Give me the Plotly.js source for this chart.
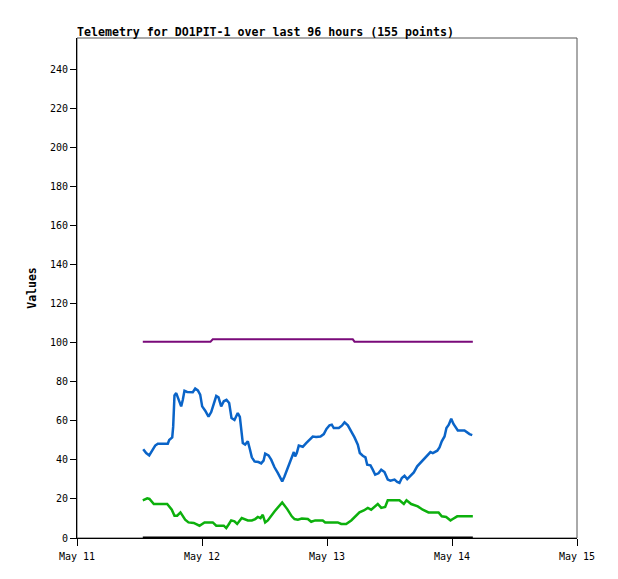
<!DOCTYPE html>
<html>
<head>
<meta charset="utf-8">
<script src="https://cdn.plot.ly/plotly-3.0.1.min.js"></script>
<style>
  body { margin: 0; background: #fff; }
  #chart { width: 618px; height: 579px; }
</style>
</head>
<body>
<div id="chart"></div>
<script>
// values
let blue_time = [
    "2024-05-11 12:43", "2024-05-11 13:17", "2024-05-11 13:52", "2024-05-11 14:22", "2024-05-11 15:01",
    "2024-05-11 15:31", "2024-05-11 16:48", "2024-05-11 17:26", "2024-05-11 17:42", "2024-05-11 18:17",
    "2024-05-11 18:28", "2024-05-11 18:35", "2024-05-11 18:43", "2024-05-11 19:03", "2024-05-11 19:21",
    "2024-05-11 19:41", "2024-05-11 20:00", "2024-05-11 20:19", "2024-05-11 20:38", "2024-05-11 21:09",
    "2024-05-11 22:14", "2024-05-11 22:42", "2024-05-11 23:12", "2024-05-11 23:39", "2024-05-12 00:02",
    "2024-05-12 00:37", "2024-05-12 01:15", "2024-05-12 01:46", "2024-05-12 02:16", "2024-05-12 02:44",
    "2024-05-12 03:10", "2024-05-12 03:41", "2024-05-12 04:11", "2024-05-12 04:42", "2024-05-12 05:13",
    "2024-05-12 05:40", "2024-05-12 06:14", "2024-05-12 06:34", "2024-05-12 06:52", "2024-05-12 07:16",
    "2024-05-12 07:32", "2024-05-12 07:50", "2024-05-12 08:17", "2024-05-12 08:48", "2024-05-12 09:11",
    "2024-05-12 09:34", "2024-05-12 10:05", "2024-05-12 10:51", "2024-05-12 11:22", "2024-05-12 11:49",
    "2024-05-12 12:08", "2024-05-12 12:46", "2024-05-12 13:17", "2024-05-12 13:55", "2024-05-12 14:33",
    "2024-05-12 15:04", "2024-05-12 15:24", "2024-05-12 15:50", "2024-05-12 16:28", "2024-05-12 17:08",
    "2024-05-12 17:38", "2024-05-12 17:53", "2024-05-12 18:12", "2024-05-12 18:35", "2024-05-12 19:21",
    "2024-05-12 20:00", "2024-05-12 20:38", "2024-05-12 21:16", "2024-05-12 21:55", "2024-05-12 22:45",
    "2024-05-12 23:23", "2024-05-12 23:54", "2024-05-13 00:29", "2024-05-13 00:55", "2024-05-13 01:18",
    "2024-05-13 02:16", "2024-05-13 02:51", "2024-05-13 03:22", "2024-05-13 04:00", "2024-05-13 04:39",
    "2024-05-13 05:17", "2024-05-13 05:55", "2024-05-13 06:18", "2024-05-13 06:52", "2024-05-13 07:23",
    "2024-05-13 07:43", "2024-05-13 08:21", "2024-05-13 08:47", "2024-05-13 09:15", "2024-05-13 09:53",
    "2024-05-13 10:25", "2024-05-13 11:02", "2024-05-13 11:40", "2024-05-13 12:11", "2024-05-13 12:58",
    "2024-05-13 13:29", "2024-05-13 13:55", "2024-05-13 14:22", "2024-05-13 14:53", "2024-05-13 15:24",
    "2024-05-13 16:02", "2024-05-13 16:40", "2024-05-13 17:19", "2024-05-13 18:05", "2024-05-13 18:51",
    "2024-05-13 19:21", "2024-05-13 19:52", "2024-05-13 20:19", "2024-05-13 21:10", "2024-05-13 21:36",
    "2024-05-13 22:02", "2024-05-13 22:34", "2024-05-13 22:56", "2024-05-13 23:23", "2024-05-13 23:51",
    "2024-05-14 00:17", "2024-05-14 00:49", "2024-05-14 01:07", "2024-05-14 02:24", "2024-05-14 02:55",
    "2024-05-14 03:22", "2024-05-14 03:53"
];
let blue_values = [
    45.4, 43.5, 42.3, 44.7, 47.3, 48.3, 48.3, 48.3, 50.2, 51.5,
    57.0, 67.4, 73.0, 74.2, 72.0, 69.4, 67.4, 70.8, 75.4, 74.8,
    74.6, 76.5, 75.6, 73.4, 67.4, 65.2, 62.1, 64.5, 69.1, 72.7,
    72.0, 67.4, 70.0, 70.7, 69.1, 61.4, 60.4, 62.3, 64.0, 62.0,
    55.5, 48.6, 47.8, 49.5, 45.6, 41.3, 39.2, 38.9, 38.2, 39.6,
    43.2, 42.3, 40.1, 36.2, 33.3, 30.7, 29.0, 31.5, 35.8, 41.0,
    44.0, 41.8, 43.5, 47.3, 46.7, 48.6, 50.2, 51.9, 51.7, 52.0,
    53.2, 55.8, 57.7, 58.0, 56.3, 56.3, 57.5, 59.2, 57.7, 54.9,
    51.5, 47.8, 43.5, 42.1, 41.3, 37.5, 37.2, 35.0, 32.4, 33.1,
    35.0, 33.8, 29.9, 29.3, 29.9, 28.7, 28.2, 30.7, 31.9, 30.2,
    31.9, 33.6, 36.7, 38.9, 41.3, 42.3, 44.0, 43.5, 44.7, 46.4,
    49.5, 52.0, 56.3, 58.0, 61.1, 58.4, 56.0, 55.1, 55.1, 54.1,
    53.2, 52.7
];

let green_time = [
    "2024-05-11 12:38", "2024-05-11 13:29", "2024-05-11 13:55", "2024-05-11 14:45", "2024-05-11 17:19",
    "2024-05-11 17:46", "2024-05-11 18:12", "2024-05-11 18:43", "2024-05-11 19:14", "2024-05-11 19:52",
    "2024-05-11 20:19", "2024-05-11 20:46", "2024-05-11 21:24", "2024-05-11 22:25", "2024-05-11 23:31",
    "2024-05-12 00:29", "2024-05-12 02:04", "2024-05-12 02:44", "2024-05-12 04:11", "2024-05-12 04:39",
    "2024-05-12 05:05", "2024-05-12 05:36", "2024-05-12 06:14", "2024-05-12 06:45", "2024-05-12 07:38",
    "2024-05-12 08:10", "2024-05-12 08:48", "2024-05-12 09:34", "2024-05-12 10:13", "2024-05-12 10:43",
    "2024-05-12 11:14", "2024-05-12 11:40", "2024-05-12 12:08", "2024-05-12 12:38", "2024-05-12 13:55",
    "2024-05-12 15:24", "2024-05-12 16:22", "2024-05-12 17:14", "2024-05-12 17:46", "2024-05-12 18:24",
    "2024-05-12 19:10", "2024-05-12 20:19", "2024-05-12 20:58", "2024-05-12 21:44", "2024-05-12 23:11",
    "2024-05-12 23:39", "2024-05-13 02:04", "2024-05-13 02:44", "2024-05-13 03:41", "2024-05-13 04:39",
    "2024-05-13 05:25", "2024-05-13 06:14", "2024-05-13 07:04", "2024-05-13 07:50", "2024-05-13 08:29",
    "2024-05-13 09:07", "2024-05-13 09:45", "2024-05-13 10:25", "2024-05-13 11:10", "2024-05-13 11:40",
    "2024-05-13 13:55", "2024-05-13 14:45", "2024-05-13 15:16", "2024-05-13 16:10", "2024-05-13 17:26",
    "2024-05-13 18:23", "2024-05-13 19:29", "2024-05-13 21:25", "2024-05-13 22:02", "2024-05-13 22:53",
    "2024-05-13 23:43", "2024-05-14 00:09", "2024-05-14 01:00", "2024-05-14 04:00"
];
let green_values = [
    19.3, 20.3, 20.0, 17.4, 17.4, 15.9, 14.5, 11.4, 11.4, 13.1,
    11.4, 9.4, 8.0, 7.7, 6.3, 8.0, 8.0, 6.3, 6.3, 5.1,
    6.8, 9.0, 8.5, 7.2, 10.2, 9.7, 9.0, 9.0, 9.7, 10.8,
    10.2, 11.9, 8.0, 9.0, 13.6, 18.2, 14.8, 11.1, 9.7, 9.4,
    10.0, 9.7, 8.3, 9.0, 9.0, 8.0, 8.0, 7.2, 7.2, 9.0,
    11.1, 13.1, 14.1, 15.4, 14.5, 15.9, 17.4, 15.4, 15.9, 19.3,
    19.3, 17.4, 19.3, 17.4, 16.2, 14.5, 13.1, 13.1, 11.1, 10.8,
    9.0, 9.7, 11.1, 11.1
];

let purple_time = [
    "2024-05-11 12:38", "2024-05-12 01:38", "2024-05-12 02:04",
    "2024-05-13 04:57", "2024-05-13 05:17", "2024-05-14 04:00"
];
let purple_values = [100.5, 100.5, 101.7, 101.7, 100.5, 100.5];

let black_time = ["2024-05-11 12:38", "2024-05-14 04:00"];
let black_values = [0, 0];

let mono = "DejaVu Sans Mono, monospace";

function lineTrace(x, y, color, width) {
    return {
        x: x,
        y: y,
        type: "scatter",
        mode: "lines",
        line: { color: color, width: width },
        hoverinfo: "skip"
    };
}

let data = [
    lineTrace(purple_time, purple_values, "#7a0a7a", 2),
    lineTrace(blue_time, blue_values, "#0a64c8", 2.5),
    lineTrace(green_time, green_values, "#0cb00c", 2.5),
    lineTrace(black_time, black_values, "#000000", 3)
];

let layout = {
    width: 618,
    height: 579,
    margin: { l: 77, r: 41, t: 38, b: 41 },
    paper_bgcolor: "#ffffff",
    plot_bgcolor: "#ffffff",
    showlegend: false,
    font: { family: mono, size: 10, color: "#000" },
    title: {
        text: "Telemetry for DO1PIT-1 over last 96 hours (155 points)",
        font: { family: mono, size: 11.6, weight: "bold", color: "#000" },
        xref: "paper", x: 0, xanchor: "left",
        yref: "paper", y: 1, yanchor: "bottom",
        pad: { b: 2 }
    },
    xaxis: {
        type: "date",
        range: ["2024-05-11 00:00", "2024-05-15 00:00"],
        dtick: 86400000,
        tick0: "2024-05-11",
        tickformat: "%b %d",
        showgrid: false,
        zeroline: false,
        showline: true,
        linecolor: "#000",
        linewidth: 1,
        ticks: "outside",
        ticklen: 7,
        tickcolor: "#000",
        tickfont: { family: mono, size: 10 },
        ticklabelstandoff: 2,
        fixedrange: true
    },
    yaxis: {
        range: [0, 256],
        dtick: 20,
        showgrid: false,
        zeroline: false,
        showline: true,
        linecolor: "#000",
        linewidth: 1,
        ticks: "outside",
        ticklen: 6,
        tickcolor: "#000",
        tickfont: { family: mono, size: 10 },
        title: {
            text: "Values",
            font: { family: mono, size: 11.5, weight: "bold" },
            standoff: 10
        },
        fixedrange: true
    },
    shapes: [{
        type: "rect", xref: "paper", yref: "paper",
        x0: 0, x1: 1, y0: 0, y1: 1,
        line: { color: "#555", width: 1 },
        layer: "below"
    }]
};

Plotly.newPlot("chart", data, layout, { staticPlot: true });
</script>
</body>
</html>
